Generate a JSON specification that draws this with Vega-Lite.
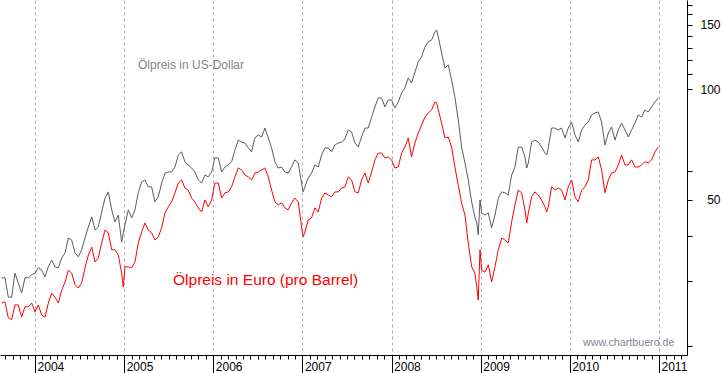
{
  "$schema": "https://vega.github.io/schema/vega-lite/v6.json",
  "width": 687,
  "height": 355,
  "autosize": "none",
  "padding": {"left": 0, "top": 0, "right": 36, "bottom": 18},
  "background": "white",
  "config": {"view": {"stroke": null}, "font": "Liberation Sans", "axis": {"labelFont": "Liberation Sans"}},
  "data": {"values": [
    {"t":2003.626,"usd":30.7,"eur":26.2},{"t":2003.663,"usd":30.7,"eur":26.4},{"t":2003.700,"usd":27.2,"eur":23.9},{"t":2003.738,"usd":27.2,"eur":23.6},
    {"t":2003.775,"usd":31.6,"eur":25.9},{"t":2003.812,"usd":29.7,"eur":25.9},{"t":2003.850,"usd":27.9,"eur":24.0},{"t":2003.887,"usd":30.7,"eur":25.6},
    {"t":2003.925,"usd":30.7,"eur":25.6},{"t":2003.963,"usd":31.3,"eur":26.2},{"t":2004.000,"usd":31.6,"eur":24.8},{"t":2004.037,"usd":32.7,"eur":25.9},
    {"t":2004.075,"usd":32.2,"eur":24.3},{"t":2004.112,"usd":30.9,"eur":24.0},{"t":2004.149,"usd":32.9,"eur":26.2},{"t":2004.187,"usd":34.3,"eur":27.9},
    {"t":2004.224,"usd":32.9,"eur":27.2},{"t":2004.261,"usd":32.7,"eur":26.2},{"t":2004.299,"usd":34.8,"eur":28.4},{"t":2004.337,"usd":35.9,"eur":29.9},
    {"t":2004.374,"usd":39.4,"eur":32.2},{"t":2004.411,"usd":38.9,"eur":31.6},{"t":2004.449,"usd":35.9,"eur":29.4},{"t":2004.486,"usd":35.0,"eur":28.8},
    {"t":2004.523,"usd":36.6,"eur":29.7},{"t":2004.561,"usd":39.4,"eur":32.7},{"t":2004.598,"usd":42.2,"eur":35.4},{"t":2004.636,"usd":45.0,"eur":37.2},
    {"t":2004.673,"usd":41.4,"eur":33.9},{"t":2004.710,"usd":42.2,"eur":34.8},{"t":2004.748,"usd":46.4,"eur":38.2},{"t":2004.785,"usd":50.6,"eur":41.4},
    {"t":2004.822,"usd":52.6,"eur":40.7},{"t":2004.860,"usd":47.0,"eur":36.6},{"t":2004.897,"usd":43.6,"eur":36.6},{"t":2004.934,"usd":45.5,"eur":35.4},
    {"t":2004.972,"usd":38.4,"eur":31.6},{"t":2004.990,"usd":40.7,"eur":29.0},{"t":2005.009,"usd":42.8,"eur":32.9},{"t":2005.046,"usd":47.0,"eur":32.9},
    {"t":2005.084,"usd":44.7,"eur":32.7},{"t":2005.121,"usd":47.0,"eur":33.9},{"t":2005.158,"usd":52.3,"eur":38.2},{"t":2005.196,"usd":56.0,"eur":40.9},
    {"t":2005.233,"usd":56.7,"eur":43.3},{"t":2005.270,"usd":54.3,"eur":41.4},{"t":2005.308,"usd":54.3,"eur":40.7},{"t":2005.345,"usd":49.4,"eur":38.9},
    {"t":2005.383,"usd":51.0,"eur":39.7},{"t":2005.420,"usd":55.6,"eur":42.0},{"t":2005.458,"usd":59.2,"eur":46.1},{"t":2005.495,"usd":59.6,"eur":47.9},
    {"t":2005.532,"usd":59.6,"eur":49.4},{"t":2005.570,"usd":61.5,"eur":52.3},{"t":2005.607,"usd":66.3,"eur":55.6},{"t":2005.644,"usd":67.6,"eur":56.7},
    {"t":2005.682,"usd":63.5,"eur":53.9},{"t":2005.719,"usd":62.3,"eur":53.2},{"t":2005.757,"usd":61.1,"eur":50.6},{"t":2005.794,"usd":59.6,"eur":49.4},
    {"t":2005.831,"usd":56.7,"eur":47.6},{"t":2005.869,"usd":55.6,"eur":46.4},{"t":2005.906,"usd":58.5,"eur":50.0},{"t":2005.943,"usd":57.8,"eur":47.9},
    {"t":2005.981,"usd":59.6,"eur":50.0},{"t":2006.018,"usd":65.1,"eur":55.6},{"t":2006.056,"usd":65.1,"eur":55.6},{"t":2006.093,"usd":59.6,"eur":50.6},
    {"t":2006.130,"usd":61.5,"eur":52.3},{"t":2006.168,"usd":62.3,"eur":52.6},{"t":2006.205,"usd":63.5,"eur":54.3},{"t":2006.243,"usd":68.4,"eur":57.8},
    {"t":2006.280,"usd":72.8,"eur":61.1},{"t":2006.317,"usd":71.9,"eur":60.4},{"t":2006.355,"usd":71.5,"eur":58.5},{"t":2006.392,"usd":69.3,"eur":57.8},
    {"t":2006.429,"usd":67.6,"eur":56.7},{"t":2006.467,"usd":73.8,"eur":59.2},{"t":2006.504,"usd":75.2,"eur":59.6},{"t":2006.542,"usd":74.2,"eur":60.4},
    {"t":2006.579,"usd":78.5,"eur":61.1},{"t":2006.616,"usd":73.8,"eur":57.8},{"t":2006.654,"usd":69.3,"eur":53.2},{"t":2006.691,"usd":63.5,"eur":49.4},
    {"t":2006.728,"usd":61.1,"eur":48.5},{"t":2006.766,"usd":61.5,"eur":49.1},{"t":2006.803,"usd":59.6,"eur":47.6},{"t":2006.841,"usd":59.2,"eur":47.0},
    {"t":2006.878,"usd":61.5,"eur":49.1},{"t":2006.915,"usd":64.3,"eur":50.6},{"t":2006.953,"usd":63.1,"eur":49.4},{"t":2006.990,"usd":55.6,"eur":42.2},
    {"t":2007.008,"usd":52.6,"eur":39.7},{"t":2007.028,"usd":54.3,"eur":40.9},{"t":2007.065,"usd":57.4,"eur":44.1},{"t":2007.102,"usd":59.2,"eur":44.7},
    {"t":2007.140,"usd":62.3,"eur":47.6},{"t":2007.177,"usd":61.5,"eur":46.4},{"t":2007.215,"usd":66.3,"eur":50.6},{"t":2007.252,"usd":69.3,"eur":52.3},
    {"t":2007.289,"usd":69.3,"eur":51.6},{"t":2007.327,"usd":67.6,"eur":51.0},{"t":2007.364,"usd":70.6,"eur":52.6},{"t":2007.402,"usd":71.5,"eur":52.6},
    {"t":2007.439,"usd":71.9,"eur":53.9},{"t":2007.477,"usd":73.3,"eur":54.3},{"t":2007.514,"usd":77.6,"eur":57.8},{"t":2007.551,"usd":76.6,"eur":56.7},
    {"t":2007.589,"usd":71.5,"eur":52.6},{"t":2007.626,"usd":69.7,"eur":52.3},{"t":2007.663,"usd":74.2,"eur":56.7},{"t":2007.701,"usd":78.5,"eur":59.2},
    {"t":2007.738,"usd":78.5,"eur":55.6},{"t":2007.776,"usd":84.1,"eur":59.6},{"t":2007.813,"usd":89.6,"eur":64.3},{"t":2007.850,"usd":94.8,"eur":67.1},
    {"t":2007.888,"usd":94.8,"eur":67.1},{"t":2007.925,"usd":89.6,"eur":65.1},{"t":2007.962,"usd":93.6,"eur":65.5},{"t":2008.000,"usd":93.6,"eur":64.3},
    {"t":2008.037,"usd":89.0,"eur":61.1},{"t":2008.075,"usd":92.4,"eur":61.5},{"t":2008.112,"usd":97.8,"eur":67.1},{"t":2008.149,"usd":100.9,"eur":69.7},
    {"t":2008.187,"usd":107.5,"eur":73.8},{"t":2008.224,"usd":104.1,"eur":65.5},{"t":2008.262,"usd":111.6,"eur":71.5},{"t":2008.299,"usd":118.8,"eur":76.1},
    {"t":2008.336,"usd":122.6,"eur":80.0},{"t":2008.374,"usd":130.5,"eur":84.1},{"t":2008.411,"usd":134.7,"eur":86.3},{"t":2008.449,"usd":136.4,"eur":87.9},
    {"t":2008.486,"usd":143.4,"eur":92.4},{"t":2008.506,"usd":145.2,"eur":91.9},{"t":2008.524,"usd":138.9,"eur":87.9},{"t":2008.561,"usd":125.7,"eur":81.0},
    {"t":2008.598,"usd":114.4,"eur":73.8},{"t":2008.636,"usd":116.6,"eur":74.2},{"t":2008.673,"usd":106.1,"eur":69.7},{"t":2008.710,"usd":95.4,"eur":61.5},
    {"t":2008.748,"usd":82.6,"eur":54.9},{"t":2008.785,"usd":69.7,"eur":49.1},{"t":2008.823,"usd":63.1,"eur":45.5},{"t":2008.860,"usd":56.7,"eur":38.2},
    {"t":2008.898,"usd":49.4,"eur":32.9},{"t":2008.935,"usd":45.0,"eur":31.6},{"t":2008.955,"usd":43.3,"eur":29.0},{"t":2008.972,"usd":40.2,"eur":26.7},
    {"t":2008.992,"usd":50.0,"eur":36.6},{"t":2009.010,"usd":46.1,"eur":32.2},{"t":2009.048,"usd":45.5,"eur":31.8},{"t":2009.085,"usd":46.1,"eur":33.3},
    {"t":2009.122,"usd":42.0,"eur":29.9},{"t":2009.160,"usd":45.5,"eur":32.9},{"t":2009.197,"usd":50.6,"eur":36.6},{"t":2009.235,"usd":52.6,"eur":39.4},
    {"t":2009.272,"usd":52.3,"eur":38.9},{"t":2009.309,"usd":51.6,"eur":38.2},{"t":2009.347,"usd":58.5,"eur":43.6},{"t":2009.384,"usd":61.5,"eur":48.5},
    {"t":2009.421,"usd":69.7,"eur":53.2},{"t":2009.459,"usd":69.7,"eur":52.3},{"t":2009.496,"usd":65.5,"eur":47.0},{"t":2009.516,"usd":61.1,"eur":43.3},
    {"t":2009.534,"usd":63.1,"eur":46.1},{"t":2009.571,"usd":71.9,"eur":51.0},{"t":2009.608,"usd":72.8,"eur":52.6},{"t":2009.646,"usd":71.9,"eur":51.6},
    {"t":2009.683,"usd":69.7,"eur":50.0},{"t":2009.721,"usd":67.1,"eur":47.9},{"t":2009.740,"usd":66.3,"eur":46.4},{"t":2009.758,"usd":69.3,"eur":47.9},
    {"t":2009.795,"usd":78.5,"eur":54.3},{"t":2009.833,"usd":78.5,"eur":53.2},{"t":2009.870,"usd":77.6,"eur":53.9},{"t":2009.907,"usd":78.5,"eur":53.2},
    {"t":2009.945,"usd":73.8,"eur":50.0},{"t":2009.982,"usd":78.5,"eur":54.3},{"t":2010.020,"usd":81.5,"eur":56.7},{"t":2010.057,"usd":75.2,"eur":51.0},
    {"t":2010.094,"usd":71.9,"eur":49.4},{"t":2010.132,"usd":77.6,"eur":53.2},{"t":2010.169,"usd":80.0,"eur":54.3},{"t":2010.207,"usd":81.5,"eur":56.7},
    {"t":2010.244,"usd":85.2,"eur":64.3},{"t":2010.281,"usd":86.3,"eur":64.3},{"t":2010.319,"usd":86.8,"eur":65.5},{"t":2010.356,"usd":81.5,"eur":60.4},
    {"t":2010.394,"usd":70.6,"eur":52.3},{"t":2010.431,"usd":76.1,"eur":56.7},{"t":2010.468,"usd":79.0,"eur":59.2},{"t":2010.506,"usd":72.8,"eur":59.6},
    {"t":2010.543,"usd":77.6,"eur":62.3},{"t":2010.580,"usd":81.0,"eur":66.3},{"t":2010.618,"usd":77.6,"eur":62.3},{"t":2010.655,"usd":74.2,"eur":62.3},
    {"t":2010.693,"usd":77.6,"eur":64.3},{"t":2010.730,"usd":81.0,"eur":61.5},{"t":2010.767,"usd":85.2,"eur":61.5},{"t":2010.805,"usd":84.1,"eur":62.3},
    {"t":2010.842,"usd":87.9,"eur":63.5},{"t":2010.879,"usd":86.8,"eur":63.1},{"t":2010.917,"usd":89.6,"eur":64.3},{"t":2010.954,"usd":92.4,"eur":67.6},
    {"t":2010.992,"usd":94.8,"eur":69.7}
  ]},
  "layer": [
    {
      "mark": {"type": "line", "color": "#5c5c5c", "strokeWidth": 1},
      "encoding": {
        "x": {"field": "t", "type": "quantitative",
          "scale": {"domain": [2003.607, 2011.314], "nice": false, "zero": false},
          "axis": {"orient": "bottom", "title": null, "labels": false, "grid": false, "domain": false,
            "tickSize": 4, "tickColor": "black", "tickWidth": 1,
            "values": [2003.6667,2003.75,2003.8333,2003.9167,
              2004,2004.0833,2004.1667,2004.25,2004.3333,2004.4167,2004.5,2004.5833,2004.6667,2004.75,2004.8333,2004.9167,
              2005,2005.0833,2005.1667,2005.25,2005.3333,2005.4167,2005.5,2005.5833,2005.6667,2005.75,2005.8333,2005.9167,
              2006,2006.0833,2006.1667,2006.25,2006.3333,2006.4167,2006.5,2006.5833,2006.6667,2006.75,2006.8333,2006.9167,
              2007,2007.0833,2007.1667,2007.25,2007.3333,2007.4167,2007.5,2007.5833,2007.6667,2007.75,2007.8333,2007.9167,
              2008,2008.0833,2008.1667,2008.25,2008.3333,2008.4167,2008.5,2008.5833,2008.6667,2008.75,2008.8333,2008.9167,
              2009,2009.0833,2009.1667,2009.25,2009.3333,2009.4167,2009.5,2009.5833,2009.6667,2009.75,2009.8333,2009.9167,
              2010,2010.0833,2010.1667,2010.25,2010.3333,2010.4167,2010.5,2010.5833,2010.6667,2010.75,2010.8333,2010.9167,
              2011,2011.0833,2011.1667,2011.25]}},
        "y": {"field": "usd", "type": "quantitative",
          "scale": {"type": "log", "domain": [18.92, 175.2], "nice": false},
          "axis": {"orient": "right", "title": null, "grid": false, "domain": true,
            "values": [20,30,40,50,60,100,110,120,130,140,150,160,170],
            "labelExpr": "(datum.value == 50 || datum.value == 100 || datum.value == 150) ? format(datum.value, 'd') : ''",
            "tickSize": 5, "tickColor": "black", "domainColor": "black",
            "labelAlign": "right", "labelPadding": 28, "labelBaseline": "middle",
            "labelFontSize": 12, "labelColor": "black", "labelOverlap": false}}
      }
    },
    {
      "mark": {"type": "line", "color": "#ff0000", "strokeWidth": 1},
      "encoding": {
        "x": {"field": "t", "type": "quantitative",
          "scale": {"domain": [2003.607, 2011.314], "nice": false, "zero": false},
          "axis": {"orient": "bottom", "title": null, "values": [2004,2005,2006,2007,2008,2009,2010,2011], "format": "d",
            "grid": true, "gridDash": [3, 3], "gridColor": "#a9a9bf", "gridWidth": 1,
            "tickSize": 18, "tickColor": "black", "domainColor": "black",
            "labelAlign": "left", "labelBaseline": "alphabetic", "labelOffset": 2, "labelPadding": -3,
            "labelFontSize": 12, "labelColor": "black", "labelOverlap": false, "labelFlush": false, "labelBound": false}},
        "y": {"field": "eur", "type": "quantitative",
          "scale": {"type": "log", "domain": [18.92, 175.2], "nice": false},
          "axis": null}
      }
    },
    {
      "data": {"values": [{"label": "Ölpreis in US-Dollar", "t": 2005.155, "v": 116.6}]},
      "mark": {"type": "text", "align": "left", "baseline": "middle", "font": "Liberation Sans", "fontSize": 12, "color": "#858585"},
      "encoding": {
        "x": {"field": "t", "type": "quantitative", "scale": {"domain": [2003.607, 2011.314], "nice": false, "zero": false}, "axis": null},
        "y": {"field": "v", "type": "quantitative", "scale": {"type": "log", "domain": [18.92, 175.2], "nice": false}, "axis": null},
        "text": {"field": "label"}
      }
    },
    {
      "data": {"values": [{"label": "Ölpreis in Euro (pro Barrel)", "t": 2005.548, "v": 30.28}]},
      "mark": {"type": "text", "align": "left", "baseline": "middle", "font": "Liberation Sans", "fontSize": 15.5, "color": "#ff0000"},
      "encoding": {
        "x": {"field": "t", "type": "quantitative", "scale": {"domain": [2003.607, 2011.314], "nice": false, "zero": false}, "axis": null},
        "y": {"field": "v", "type": "quantitative", "scale": {"type": "log", "domain": [18.92, 175.2], "nice": false}, "axis": null},
        "text": {"field": "label"}
      }
    },
    {
      "data": {"values": [{"label": "www.chartbuero.de", "t": 2010.147, "v": 20.44}]},
      "mark": {"type": "text", "align": "left", "baseline": "middle", "font": "Liberation Sans", "fontSize": 10.7, "color": "#85858f"},
      "encoding": {
        "x": {"field": "t", "type": "quantitative", "scale": {"domain": [2003.607, 2011.314], "nice": false, "zero": false}, "axis": null},
        "y": {"field": "v", "type": "quantitative", "scale": {"type": "log", "domain": [18.92, 175.2], "nice": false}, "axis": null},
        "text": {"field": "label"}
      }
    }
  ],
  "resolve": {"axis": {"x": "independent", "y": "independent"}}
}
